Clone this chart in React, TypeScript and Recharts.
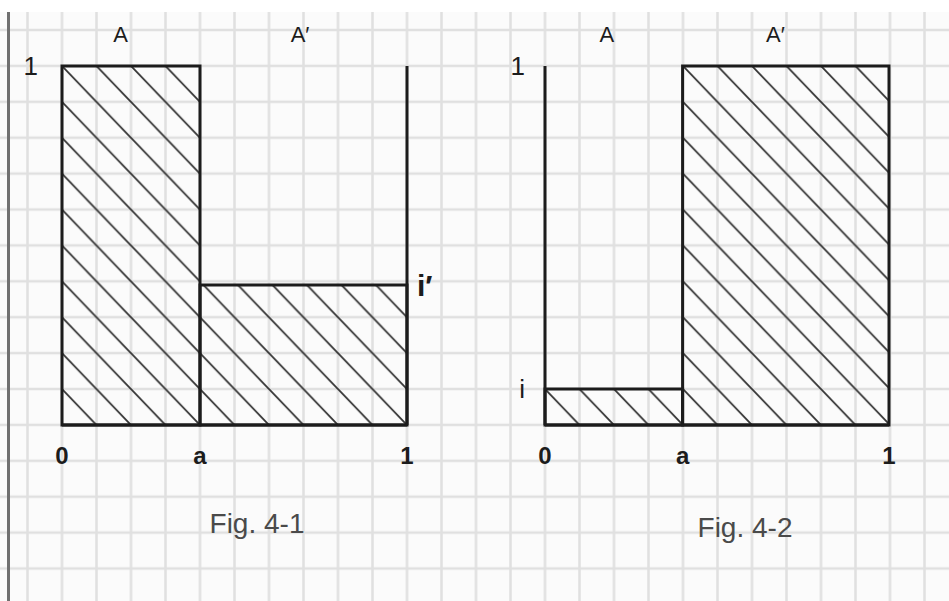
import React from 'react';
import { ComposedChart, XAxis, YAxis, Area, ReferenceArea } from 'recharts';

const W = 949;
const H = 601;
const CELL_W = 34.5;
const CELL_H = 35.9;
const PLOT_TOP = 66;
const PLOT_BOTTOM = 425;
const AX = 40;
const INK = '#1c1c1c';
const FONT = '"Liberation Sans", Arial, sans-serif';

// values
const splitA = 0.4;
const xBounds = [0, splitA, 1];
const xTicks = [0, splitA, 1];
const xTickLabels = ['0', 'a', '1'];
const barNames = ['A', 'A′'];

const fig1Heights = [1, 0.39];
const fig1NamePos = [0.17, 0.69];
const fig1LeftTicks = [1];
const fig1LeftLabels = ['1'];
const fig1RightTicks = [0.39];
const fig1RightLabels = ['i′'];

const fig2Heights = [0.1, 1];
const fig2NamePos = [0.18, 0.67];
const fig2LeftTicks = [0.1, 1];
const fig2LeftLabels = ['i', '1'];
const fig2RightTicks: number[] = [];
const fig2RightLabels: string[] = [];

const captions = ['Fig. 4-1', 'Fig. 4-2'];

interface PanelProps {
  id: string;
  left: number;
  width: number;
  plotLeft: number;
  plotRight: number;
  heights: number[];
  namePos: number[];
  leftTicks: number[];
  leftLabels: string[];
  rightTicks: number[];
  rightLabels: string[];
  showLeftLine: boolean;
}

function Panel(p: PanelProps) {
  const hasRight = p.rightTicks.length > 0;
  const margin = {
    top: PLOT_TOP - AX,
    bottom: H - PLOT_BOTTOM - AX,
    left: p.plotLeft - p.left - AX,
    right: p.left + p.width - p.plotRight - (hasRight ? AX : 0),
  };
  // step outline: each bar height holds from its left bound to the next
  const data = xBounds.map((x, i) => ({ x, h: p.heights[Math.min(i, p.heights.length - 1)] }));
  const w = CELL_W;
  const h = CELL_H;
  const hatch = `M${-w},${-h}L${2 * w},${2 * h}M0,${-h}L${2 * w},${h}M${-w},0L${w},${2 * h}`;
  const tickStyle = { fill: INK, fontSize: 24, fontFamily: FONT, fontWeight: 700 };

  return (
    <div style={{ position: 'absolute', left: p.left, top: 0 }}>
      <ComposedChart width={p.width} height={H} margin={margin} data={data}>
        <defs>
          <pattern
            id={p.id}
            patternUnits="userSpaceOnUse"
            x={p.plotLeft - p.left}
            y={PLOT_TOP}
            width={w}
            height={h}
          >
            <path d={hatch} stroke="#333" strokeWidth={1.8} fill="none" />
          </pattern>
        </defs>
        <XAxis
          xAxisId="b"
          type="number"
          dataKey="x"
          domain={[0, 1]}
          ticks={xTicks}
          tickFormatter={(v) => xTickLabels[xTicks.indexOf(v)]}
          height={AX}
          tickSize={0}
          tickMargin={22}
          tick={tickStyle}
          axisLine={{ stroke: INK, strokeWidth: 3 }}
          allowDataOverflow
        />
        <XAxis
          xAxisId="t"
          orientation="top"
          type="number"
          dataKey="x"
          domain={[0, 1]}
          ticks={p.namePos}
          tickFormatter={(v) => barNames[p.namePos.indexOf(v)]}
          height={AX}
          tickSize={0}
          tickMargin={24}
          tick={{ ...tickStyle, fontSize: 22, fontWeight: 400 }}
          axisLine={false}
          allowDataOverflow
        />
        <YAxis
          yAxisId="l"
          type="number"
          dataKey="h"
          domain={[0, 1]}
          ticks={p.leftTicks}
          tickFormatter={(v) => p.leftLabels[p.leftTicks.indexOf(v)]}
          width={AX}
          tickSize={0}
          tickMargin={p.showLeftLine ? 20 : 24}
          tick={{ ...tickStyle, fontWeight: 400, fontSize: 26 }}
          axisLine={p.showLeftLine ? { stroke: INK, strokeWidth: 3 } : false}
        />
        {hasRight && (
          <YAxis
            yAxisId="r"
            orientation="right"
            type="number"
            dataKey="h"
            domain={[0, 1]}
            ticks={p.rightTicks}
            tickFormatter={(v) => p.rightLabels[p.rightTicks.indexOf(v)]}
            width={AX}
            tickSize={0}
            tickMargin={10}
            tick={{ ...tickStyle, fontSize: 30 }}
            axisLine={{ stroke: INK, strokeWidth: 3 }}
          />
        )}
        <Area
          xAxisId="b"
          yAxisId="l"
          type="stepAfter"
          dataKey="h"
          stroke="none"
          fill={`url(#${p.id})`}
          fillOpacity={1}
          dot={false}
          activeDot={false}
          isAnimationActive={false}
        />
        {p.heights.map((val, i) => (
          <ReferenceArea
            key={i}
            xAxisId="b"
            yAxisId="l"
            x1={xBounds[i]}
            x2={xBounds[i + 1]}
            y1={0}
            y2={val}
            fill="none"
            stroke={INK}
            strokeWidth={3}
            ifOverflow="visible"
          />
        ))}
      </ComposedChart>
    </div>
  );
}

function Paper() {
  const w = CELL_W;
  const h = CELL_H;
  return (
    <svg width={W} height={H} style={{ position: 'absolute', left: 0, top: 0 }}>
      <defs>
        <pattern
          id="paper"
          patternUnits="userSpaceOnUse"
          x={27.5 - w / 2}
          y={30 - h / 2}
          width={w}
          height={h}
        >
          <path d={`M${w / 2},0V${h}M0,${h / 2}H${w}`} stroke="#e0e0e0" strokeWidth={2.5} fill="none" />
        </pattern>
      </defs>
      <rect x={0} y={0} width={W} height={H} fill="#ffffff" />
      <rect x={0} y={12} width={W} height={H - 12} fill="#fbfbfb" />
      <rect x={0} y={12} width={W} height={H - 12} fill="url(#paper)" />
      <rect x={7} y={12} width={3} height={H - 12} fill="#707070" />
      <text x={257} y={533} textAnchor="middle" fontSize={28} fontFamily={FONT} fill="#4a4a4a">
        {captions[0]}
      </text>
      <text x={745} y={537} textAnchor="middle" fontSize={28} fontFamily={FONT} fill="#4a4a4a">
        {captions[1]}
      </text>
    </svg>
  );
}

export default function App() {
  return (
    <div style={{ position: 'fixed', left: 0, top: 0, width: W, height: H, overflow: 'hidden', background: '#fff' }}>
      <Paper />
      <Panel
        id="hatch1"
        left={0}
        width={475}
        plotLeft={62}
        plotRight={407}
        heights={fig1Heights}
        namePos={fig1NamePos}
        leftTicks={fig1LeftTicks}
        leftLabels={fig1LeftLabels}
        rightTicks={fig1RightTicks}
        rightLabels={fig1RightLabels}
        showLeftLine={false}
      />
      <Panel
        id="hatch2"
        left={475}
        width={474}
        plotLeft={545}
        plotRight={889}
        heights={fig2Heights}
        namePos={fig2NamePos}
        leftTicks={fig2LeftTicks}
        leftLabels={fig2LeftLabels}
        rightTicks={fig2RightTicks}
        rightLabels={fig2RightLabels}
        showLeftLine={true}
      />
    </div>
  );
}
